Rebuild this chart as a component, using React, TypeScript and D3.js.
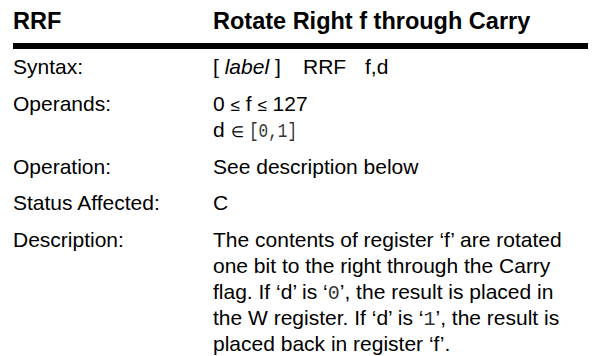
import React from 'react';
import * as d3 from 'd3';

// instruction sheet content
const mnemonic = 'RRF';
const title = 'Rotate Right f through Carry';
const rowLabels = ['Syntax:', 'Operands:', 'Operation:', 'Status Affected:', 'Description:'];
const rowLineCounts = [1, 2, 1, 1, 5];
const syntaxParts = ['RRF', 'f,d'];
const operandRange = ['0', '127'];
const destSet = '[0,1]';
const operation = 'See description below';
const statusAffected = 'C';
const descriptionLines = [
    [{ t: 'The contents of register ‘f’ are rotated' }],
    [{ t: 'one bit to the right through the Carry' }],
    [{ t: 'flag. If ‘d’ is ‘' }, { t: '0', mono: true }, { t: '’, the result is placed in' }],
    [{ t: 'the W register. If ‘d’ is ‘' }, { t: '1', mono: true }, { t: '’, the result is' }],
    [{ t: 'placed back in register ‘f’.' }],
];

const width = 593;
const height = 356;

export default function App() {
    let margin = { top: 10, left: 13, right: 5 };
    const col2 = 213;
    const lineH = 26;
    const rowGap = 36.75;

    // baseline of each row: row gap between rows, line height inside a row
    let starts: number[] = [];
    let y = 74;
    rowLineCounts.forEach((n) => {
        starts.push(y);
        y += (n - 1) * lineH + rowGap;
    });
    const lineY = d3.scaleLinear().domain([0, 1]).range([0, lineH]);

    const sans = '"Liberation Sans", Arial, sans-serif';
    const mono = '"Liberation Mono", "Courier New", monospace';
    const fs = 21;

    return (
        <svg width={width} height={height} style={{ position: 'absolute', left: 0, top: 0, background: '#fff' }}>
            <g fontFamily={sans} fill="#000">
                <text x={margin.left} y={29} fontSize={23.5} fontWeight="bold">{mnemonic}</text>
                <text x={col2} y={29} fontSize={23.5} fontWeight="bold">{title}</text>
                <line x1={margin.left} x2={width - margin.right} y1={46} y2={46} stroke="#000" strokeWidth={6} />

                {rowLabels.map((l, i) => (
                    <text key={l} x={margin.left} y={starts[i]} fontSize={fs}>{l}</text>
                ))}

                {/* Syntax */}
                <text x={col2} y={starts[0]} fontSize={fs}>
                    [ <tspan fontStyle="italic">label</tspan> ]
                </text>
                <text x={303} y={starts[0]} fontSize={fs}>{syntaxParts[0]}</text>
                <text x={365} y={starts[0]} fontSize={fs}>{syntaxParts[1]}</text>

                {/* Operands */}
                <text x={col2} y={starts[1]} fontSize={fs}>
                    {operandRange[0]} <tspan fontSize={17}>≤</tspan> f <tspan fontSize={17}>≤</tspan> {operandRange[1]}
                </text>
                <text x={col2} y={starts[1] + lineY(1)} fontSize={fs}>
                    d <tspan fontSize={15}>∈</tspan>
                </text>
                <text x={249} y={starts[1] + lineY(1)} fontSize={21} fontFamily={mono} fill="#333"
                    textLength={48} lengthAdjust="spacingAndGlyphs">{destSet}</text>

                <text x={col2} y={starts[2]} fontSize={fs}>{operation}</text>
                <text x={col2} y={starts[3]} fontSize={fs}>{statusAffected}</text>

                {descriptionLines.map((parts, i) => (
                    <text key={i} x={col2} y={starts[4] + lineY(i)} fontSize={fs}>
                        {parts.map((p, j) => (
                            <tspan key={j} fontFamily={p.mono ? mono : undefined} fill={p.mono ? '#333' : undefined}
                                fontSize={p.mono ? 20 : undefined}>{p.t}</tspan>
                        ))}
                    </text>
                ))}
            </g>
        </svg>
    );
}
